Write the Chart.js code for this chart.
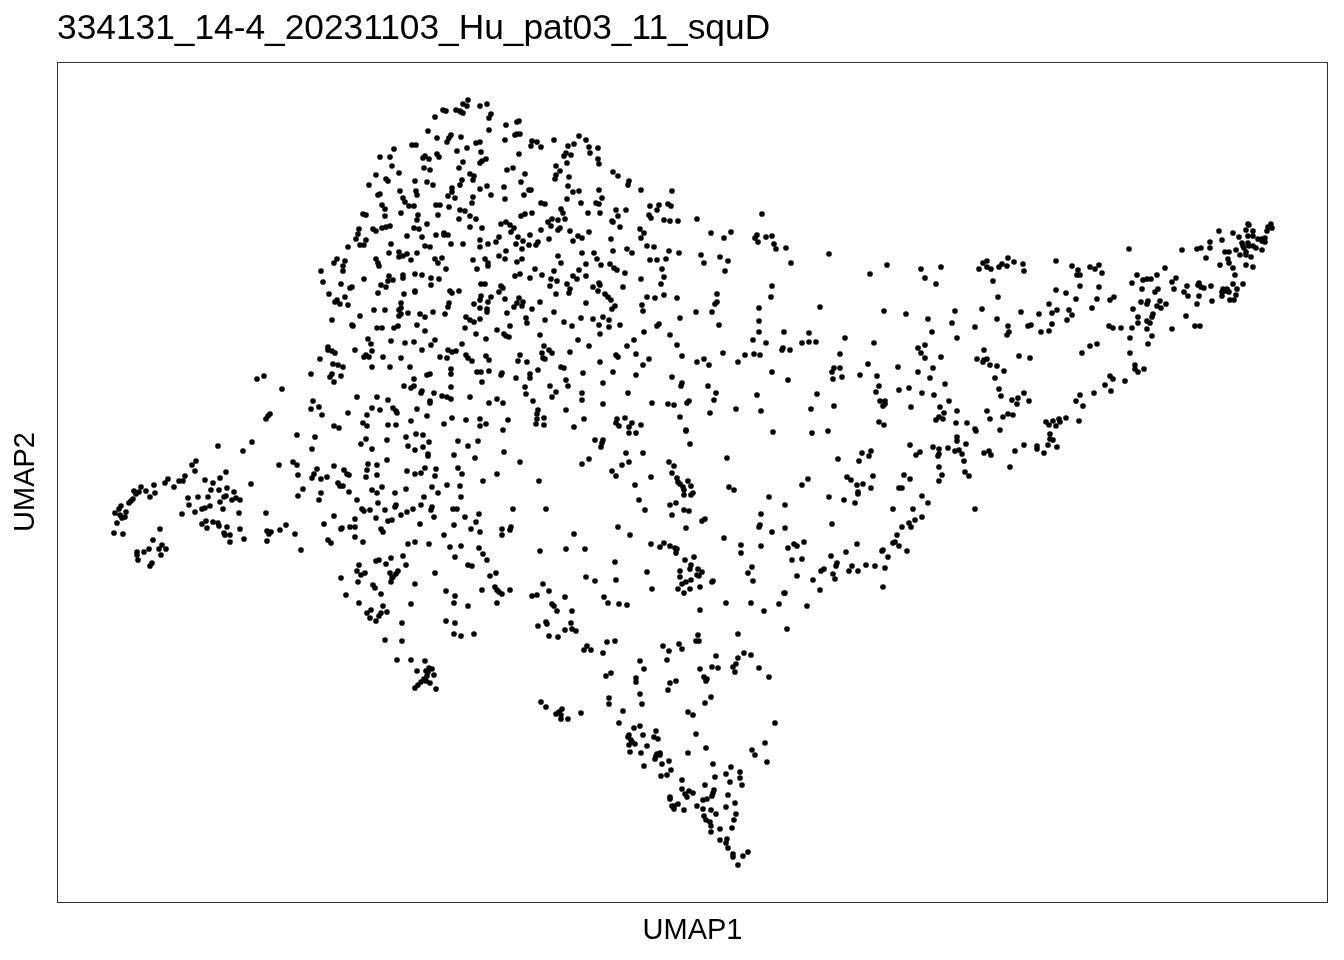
<!DOCTYPE html>
<html>
<head>
<meta charset="utf-8">
<script src="https://cdn.jsdelivr.net/npm/chart.js@4/dist/chart.umd.min.js"></script>
<style>
    html, body { margin: 0; padding: 0; background: #fff; }
    canvas { display: block; }
</style>
</head>
<body>
<canvas id="umap-chart" width="1344" height="960"></canvas>
<script>
const chartTitle = '334131_14-4_20231103_Hu_pat03_11_squD';
const xLabel = 'UMAP1';
const yLabel = 'UMAP2';

// Cells as [UMAP1, UMAP2], grouped by area of the plot
const northWest = [[4.11,8.02],[4.06,7.98],[4.10,7.96],[4.23,7.96],[4.30,7.98],[3.86,7.92],[3.89,7.91],[3.99,7.92],[4.03,7.91],[4.06,7.89],[4.04,7.90],[4.34,7.88],[4.32,7.84],[3.78,7.85],[4.49,7.77],[3.71,7.71],[4.32,7.72],[3.80,7.64],[3.94,7.67],[3.92,7.64],[3.90,7.60],[4.04,7.65],[4.48,7.62],[3.55,7.57],[3.59,7.57],[4.19,7.59],[4.23,7.60],[3.37,7.53],[4.00,7.51],[4.10,7.54],[4.24,7.50],[3.23,7.45],[3.33,7.45],[3.68,7.46],[3.66,7.44],[3.72,7.43],[3.80,7.48],[3.82,7.45],[4.06,7.40],[4.29,7.43],[4.25,7.41],[4.23,7.39],[3.35,7.36],[4.02,7.34],[3.67,7.34],[3.73,7.32],[4.50,7.32],[3.42,7.29],[3.19,7.27],[4.13,7.28],[4.17,7.26],[4.16,7.22],[3.29,7.23],[3.31,7.21],[3.58,7.21],[3.70,7.20],[3.12,7.17],[3.76,7.17],[4.05,7.22],[4.03,7.17],[4.30,7.16],[4.47,7.15],[4.23,7.13],[3.95,7.14],[3.95,7.10],[3.43,7.11],[3.59,7.11],[3.60,7.07],[3.23,7.08],[3.21,7.07],[3.91,7.06],[4.34,7.07],[3.98,7.04],[4.16,7.05],[3.46,7.04],[3.48,7.00],[4.48,7.03],[4.15,6.99],[3.25,6.97],[3.28,6.93],[3.52,6.96],[3.57,6.96],[3.79,6.97],[3.83,6.97],[3.92,6.95],[4.03,6.92],[4.08,6.91],[3.44,6.89],[3.06,6.88],[3.09,6.87],[3.28,6.86],[3.61,6.87],[3.60,6.82],[3.81,6.87],[4.13,6.86],[4.19,6.83],[4.02,6.83],[3.70,6.78],[4.44,6.78],[4.49,6.80],[4.53,6.77],[3.33,6.76],[3.29,6.75],[3.25,6.74],[3.16,6.73],[3.19,6.71],[3.02,6.73],[3.57,6.74],[3.62,6.73],[4.13,6.75],[4.25,6.74],[3.01,6.68],[2.99,6.63],[3.09,6.62],[3.50,6.66],[3.79,6.67],[3.87,6.69],[3.87,6.67],[3.91,6.67],[3.65,6.65],[4.42,6.65],[4.23,6.62],[4.39,6.60],[3.03,6.57],[3.07,6.57],[2.91,6.55],[3.34,6.58],[3.94,6.58],[4.06,6.58],[4.31,6.58],[3.68,6.56],[3.73,6.55],[4.23,6.55],[4.49,6.51],[3.42,6.50],[3.32,6.49],[3.50,6.48],[3.46,6.46],[3.42,6.45],[3.60,6.49],[4.42,6.46],[4.48,6.43],[2.80,6.43],[2.88,6.41],[2.77,6.39],[3.19,6.43],[3.21,6.39],[3.54,6.42],[3.78,6.43],[3.85,6.44],[3.81,6.39],[4.16,6.42],[4.28,6.43],[4.31,6.39]];

const northCentre = [[4.60,7.80],[4.62,7.81],[4.58,7.67],[4.60,7.68],[4.63,7.68],[4.75,7.61],[4.80,7.60],[4.74,7.56],[4.84,7.55],[4.97,7.62],[5.22,7.66],[5.29,7.62],[5.17,7.58],[5.11,7.56],[5.32,7.55],[5.41,7.54],[5.33,7.49],[5.09,7.49],[5.07,7.46],[5.14,7.47],[4.62,7.48],[5.41,7.43],[5.42,7.38],[5.10,7.39],[4.99,7.36],[4.56,7.34],[5.03,7.31],[5.56,7.30],[5.61,7.26],[4.68,7.28],[4.99,7.27],[4.98,7.23],[5.12,7.25],[5.72,7.21],[5.71,7.17],[4.64,7.20],[5.11,7.16],[5.16,7.10],[5.22,7.11],[5.42,7.12],[5.84,7.12],[6.15,7.11],[4.72,7.12],[4.74,7.12],[4.67,7.07],[5.45,7.04],[5.10,7.03],[4.84,6.99],[4.88,6.98],[5.24,6.99],[5.39,6.99],[5.42,6.98],[6.11,6.98],[6.14,6.96],[5.93,6.96],[6.02,6.97],[5.04,6.93],[5.59,6.92],[5.69,6.92],[6.00,6.92],[5.06,6.89],[4.75,6.89],[4.68,6.88],[4.64,6.86],[5.31,6.89],[5.43,6.89],[5.61,6.86],[5.92,6.87],[5.94,6.84],[4.95,6.83],[5.01,6.82],[5.08,6.83],[4.91,6.80],[4.94,6.76],[5.55,6.81],[5.56,6.80],[6.07,6.82],[6.13,6.81],[6.21,6.81],[6.40,6.83],[5.63,6.75],[4.57,6.74],[4.54,6.70],[4.84,6.72],[5.03,6.74],[5.01,6.72],[5.13,6.71],[5.83,6.73],[5.87,6.69],[5.32,6.70],[4.73,6.67],[4.61,6.65],[5.21,6.66],[5.25,6.64],[4.92,6.63],[5.54,6.63],[5.84,6.64],[6.54,6.69],[4.66,6.61],[5.16,6.61],[4.59,6.58],[4.72,6.57],[4.81,6.60],[4.79,6.57],[5.90,6.56],[5.97,6.55],[4.65,6.53],[5.70,6.53],[5.75,6.49],[5.56,6.51],[5.25,6.49],[5.37,6.49],[6.12,6.51],[6.22,6.49],[5.01,6.46],[6.44,6.47],[5.40,6.43],[5.93,6.42],[6.00,6.42],[6.09,6.43],[4.65,6.43],[4.60,6.40],[5.04,6.39],[5.29,6.38],[5.53,6.38],[6.47,6.39]];

const midWest = [[2.86,6.36],[2.64,6.31],[2.86,6.31],[3.22,6.36],[4.20,6.33],[4.31,6.36],[3.89,6.33],[3.07,6.23],[3.32,6.26],[3.46,6.27],[3.46,6.24],[3.58,6.28],[3.65,6.27],[3.74,6.24],[3.82,6.23],[3.36,6.22],[3.31,6.21],[2.66,6.20],[2.84,6.18],[2.95,6.15],[2.93,6.14],[3.24,6.17],[3.29,6.15],[3.74,6.17],[4.24,6.18],[4.28,6.18],[4.44,6.16],[4.46,6.14],[2.72,6.08],[2.88,6.05],[3.21,6.09],[3.47,6.08],[3.58,6.11],[3.58,6.10],[3.93,6.11],[3.95,6.09],[4.02,6.11],[4.42,6.10],[4.24,6.06],[4.34,6.05],[4.23,6.02],[4.31,6.00],[4.48,6.03],[2.80,6.02],[2.78,6.00],[2.83,5.98],[2.91,5.97],[3.44,5.99],[3.92,5.99],[3.91,5.95],[4.17,5.98],[3.44,5.94],[3.42,5.92],[3.17,5.92],[3.28,5.92],[4.23,5.94],[4.30,5.93],[4.30,5.90],[3.76,5.90],[3.88,5.88],[3.51,5.89],[3.63,5.88],[3.42,5.86],[3.44,5.88],[3.68,5.85],[3.03,5.86],[4.50,5.89],[4.09,5.85],[2.75,5.82],[4.13,5.82],[4.17,5.80],[4.23,5.83],[2.95,5.77],[2.96,5.76],[3.60,5.77],[3.41,5.76],[3.37,5.74],[3.20,5.74],[3.25,5.74],[4.08,5.74],[4.53,5.76],[3.68,5.71],[4.40,5.72],[4.19,5.68],[4.47,5.68],[4.49,5.66],[4.52,5.65],[4.29,5.63],[3.11,5.63],[3.34,5.61],[3.14,5.58],[3.48,5.59],[3.57,5.60],[3.78,5.62],[3.74,5.57],[4.05,5.58],[2.71,5.55],[2.71,5.52],[2.75,5.51],[2.78,5.49],[2.98,5.52],[3.15,5.51],[3.65,5.52],[3.91,5.52],[3.95,5.50],[3.99,5.51],[3.09,5.47],[3.07,5.45],[3.12,5.45],[3.26,5.45],[3.44,5.44],[3.83,5.45],[3.90,5.44],[4.09,5.47],[4.11,5.44],[4.15,5.41],[4.29,5.46],[4.32,5.42],[2.63,5.43],[2.76,5.38],[2.81,5.37],[2.86,5.35],[3.15,5.35],[3.33,5.35],[3.53,5.35],[3.94,5.33],[3.94,5.28],[2.54,5.28],[2.75,5.28],[2.73,5.25],[2.84,5.26],[3.70,5.27],[3.73,5.28],[4.20,5.30],[4.24,5.30],[4.32,5.31],[4.45,5.29],[4.44,5.27],[2.77,5.20],[3.57,5.23],[4.25,5.20],[3.47,5.16],[3.57,5.16],[3.54,5.14],[3.94,5.15],[3.65,5.11],[3.64,5.09],[3.77,5.09],[3.00,5.05],[3.20,5.05],[3.85,5.06],[3.90,5.05],[3.94,5.03],[4.13,5.05],[3.31,5.02],[4.40,5.03],[3.73,5.01],[3.73,4.99],[4.32,4.99],[4.46,4.99],[2.56,5.01],[2.54,4.93],[2.62,4.95],[2.65,4.87],[3.15,4.94],[3.23,4.92],[3.36,4.94],[3.39,4.91],[3.40,4.89],[3.60,4.93],[2.91,4.89],[3.10,4.87],[3.70,4.86],[3.95,4.84],[4.09,4.82],[4.23,4.83],[4.51,4.82],[3.54,4.81],[3.06,4.79],[3.10,4.76],[3.31,4.77],[3.39,4.77],[3.87,4.78],[4.29,4.78],[4.23,4.76],[2.77,4.76],[2.82,4.74],[4.46,4.72]];

const midCentre = [[4.63,6.28],[4.58,6.26],[4.78,6.33],[4.73,6.24],[4.85,6.27],[4.97,6.31],[4.94,6.23],[5.00,6.21],[4.93,6.16],[5.22,6.32],[5.44,6.37],[5.57,6.34],[5.60,6.32],[5.68,6.29],[5.16,6.26],[5.20,6.23],[5.29,6.26],[5.84,6.23],[6.05,6.33],[6.07,6.25],[6.04,6.18],[5.10,6.18],[5.13,6.13],[5.12,6.09],[4.99,6.08],[5.36,6.15],[5.42,6.19],[5.43,6.17],[5.41,6.11],[5.66,6.15],[5.48,6.08],[5.51,6.05],[5.54,6.02],[6.07,6.07],[5.90,6.05],[5.98,6.04],[6.20,6.04],[6.60,6.08],[4.62,6.04],[4.60,5.99],[4.66,6.00],[4.65,5.96],[4.57,5.95],[4.83,6.00],[5.29,5.99],[5.58,5.96],[5.55,5.93],[5.85,5.97],[6.60,6.00],[6.58,5.98],[4.75,5.93],[4.97,5.90],[5.86,5.91],[6.39,5.90],[6.55,5.90],[5.24,5.84],[5.36,5.83],[5.46,5.85],[5.52,5.82],[4.69,5.84],[4.70,5.79],[4.88,5.82],[5.07,5.80],[5.15,5.76],[5.42,5.77],[5.52,5.75],[5.63,5.77],[6.23,5.84],[6.02,5.78],[6.00,5.76],[6.62,5.77],[5.87,5.70],[5.43,5.68],[6.13,5.67],[4.83,5.67],[5.21,5.62],[5.77,5.62],[5.32,5.56],[5.70,5.56],[6.20,5.57],[4.87,5.56],[4.92,5.52],[4.95,5.49],[4.85,5.49],[5.13,5.50],[5.79,5.48],[6.25,5.46],[4.63,5.47],[4.86,5.44],[4.88,5.43],[5.59,5.47],[5.61,5.45],[5.92,5.43],[6.47,5.43],[4.61,5.41],[4.70,5.40],[5.43,5.40],[6.40,5.40],[6.52,5.37],[5.86,5.37],[4.81,5.32],[5.04,5.35],[5.07,5.34],[5.56,5.30],[5.26,5.29],[5.79,5.27],[4.73,5.28],[4.73,5.24],[4.59,5.24],[6.15,5.25],[5.09,5.22],[5.46,5.19],[6.25,5.19],[6.24,5.16],[4.93,5.16],[5.11,5.16],[6.51,5.16],[4.68,5.15],[5.71,5.09],[4.99,5.10],[5.25,5.09],[6.59,5.09],[4.69,5.08],[4.95,5.05],[5.25,5.02],[6.57,5.02],[4.76,5.01],[5.46,4.98],[5.95,4.99],[6.11,4.98],[6.17,4.97],[6.32,5.01],[6.30,4.99],[4.81,4.92],[4.80,4.88],[5.09,4.92],[6.53,4.89],[6.23,4.85],[4.87,4.84],[4.80,4.83],[5.27,4.83],[5.68,4.84],[5.60,4.83],[5.59,4.79],[5.84,4.77],[5.75,4.79],[5.72,4.75],[5.62,4.76],[4.79,4.78],[4.87,4.77],[5.17,4.75],[6.29,4.72]];

const tailWest = [[2.00,5.23],[2.07,5.26],[2.25,5.13],[2.13,4.88],[2.11,4.86],[2.09,4.83],[2.40,4.67],[1.95,4.60],[1.61,4.56],[1.86,4.51],[1.39,4.41],[1.35,4.37],[2.22,4.37],[2.36,4.40],[2.40,4.37],[1.38,4.31],[1.69,4.30],[2.41,4.27],[1.28,4.26],[1.11,4.23],[1.48,4.22],[1.63,4.24],[1.22,4.21],[1.26,4.21],[1.08,4.19],[1.56,4.19],[1.94,4.18],[0.97,4.17],[0.84,4.15],[1.17,4.15],[1.70,4.14],[1.62,4.12],[1.54,4.12],[0.89,4.11],[0.77,4.11],[0.82,4.10],[0.79,4.08],[0.98,4.09],[1.77,4.10],[1.69,4.06],[1.67,4.05],[1.79,4.04],[1.41,4.05],[1.51,4.05],[0.93,4.05],[1.31,4.04],[2.41,4.06],[0.76,4.03],[0.74,4.01],[0.72,3.99],[1.75,4.02],[1.83,4.02],[1.63,4.00],[1.32,3.97],[1.53,3.96],[0.64,3.96],[0.62,3.93],[1.45,3.93],[1.48,3.94],[1.66,3.93],[1.38,3.90],[0.58,3.89],[0.69,3.90],[0.63,3.87],[1.25,3.88],[1.82,3.89],[2.09,3.89],[0.68,3.85],[0.65,3.84],[0.60,3.79],[1.49,3.81],[1.56,3.80],[1.61,3.79],[1.45,3.78],[1.62,3.76],[1.50,3.74],[1.70,3.75],[1.83,3.73],[2.29,3.77],[2.23,3.72],[1.03,3.73],[2.10,3.71],[2.14,3.70],[2.12,3.68],[2.38,3.68],[0.57,3.69],[0.66,3.68],[1.67,3.69],[1.68,3.67],[1.73,3.67],[1.87,3.63],[0.96,3.62],[2.10,3.61],[1.73,3.60],[1.05,3.57],[1.02,3.53],[0.92,3.53],[1.09,3.53],[0.87,3.50],[0.80,3.50],[0.80,3.47],[1.04,3.47],[0.81,3.42],[0.95,3.39],[0.93,3.36]];

const southWest = [[2.58,4.65],[2.55,4.53],[3.04,4.58],[3.09,4.63],[3.15,4.53],[3.30,4.62],[3.49,4.65],[3.59,4.68],[3.66,4.67],[3.72,4.60],[3.51,4.56],[3.58,4.52],[3.66,4.55],[3.71,4.48],[3.71,4.46],[4.01,4.61],[4.11,4.56],[4.21,4.61],[3.97,4.47],[4.18,4.44],[4.47,4.50],[4.63,4.40],[3.30,4.42],[2.77,4.36],[3.11,4.38],[3.20,4.37],[3.10,4.32],[4.01,4.34],[2.60,4.33],[2.87,4.32],[3.50,4.31],[3.68,4.34],[3.79,4.33],[3.64,4.29],[3.58,4.28],[4.05,4.28],[4.40,4.28],[2.90,4.28],[2.92,4.27],[2.57,4.28],[2.55,4.24],[2.64,4.23],[2.70,4.25],[3.20,4.27],[3.09,4.25],[3.78,4.26],[4.26,4.21],[2.81,4.19],[2.83,4.16],[2.86,4.16],[2.46,4.13],[3.25,4.15],[3.15,4.12],[3.49,4.13],[3.75,4.15],[3.90,4.17],[4.03,4.16],[2.64,4.09],[2.92,4.10],[3.20,4.09],[3.38,4.09],[3.81,4.09],[3.67,4.05],[4.04,4.05],[2.62,4.02],[3.00,4.02],[3.21,3.99],[3.39,3.97],[3.38,3.95],[3.64,3.97],[3.05,3.93],[3.07,3.91],[3.13,3.92],[3.28,3.92],[3.56,3.93],[3.50,3.90],[3.75,3.95],[3.74,3.92],[3.96,3.93],[4.00,3.93],[4.56,3.93],[4.22,3.88],[3.44,3.87],[2.77,3.86],[2.98,3.83],[3.19,3.84],[3.77,3.85],[4.08,3.85],[3.31,3.81],[3.35,3.82],[4.19,3.80],[2.67,3.78],[3.63,3.78],[3.97,3.77],[2.85,3.74],[2.84,3.73],[2.93,3.75],[2.98,3.75],[3.24,3.73],[3.26,3.70],[4.14,3.73],[4.23,3.70],[4.45,3.73],[4.54,3.75],[4.53,3.72],[4.45,3.67],[3.87,3.67],[2.98,3.65],[3.06,3.60],[2.71,3.62],[2.74,3.59],[3.58,3.60],[3.51,3.58],[3.72,3.58],[2.44,3.52],[3.93,3.55],[4.04,3.56],[4.22,3.54],[4.26,3.48],[3.98,3.45],[3.46,3.46],[3.34,3.44],[3.22,3.42],[3.19,3.41],[4.30,3.42],[3.29,3.38],[3.49,3.37],[3.02,3.37],[4.11,3.37],[4.15,3.36],[3.00,3.31],[3.08,3.29],[3.04,3.27],[3.41,3.31],[3.39,3.28],[3.33,3.29],[3.36,3.25],[3.78,3.29],[4.39,3.29],[4.33,3.26],[2.84,3.24],[3.35,3.24],[3.34,3.20],[3.01,3.20],[3.58,3.18],[3.16,3.17],[3.18,3.14],[4.38,3.15],[4.40,3.12],[4.42,3.10],[4.45,3.08],[4.25,3.12],[4.53,3.12],[3.89,3.11],[3.98,3.06],[2.89,3.07],[3.24,3.08],[3.02,2.99],[3.54,2.98],[3.97,2.99],[4.11,2.96],[4.40,2.99],[3.26,2.96],[3.14,2.92],[3.30,2.90],[3.24,2.89],[3.22,2.86],[3.10,2.89],[3.13,2.84],[3.19,2.81],[3.45,2.79],[3.89,2.81],[3.98,2.79],[3.97,2.68],[4.04,2.66],[4.17,2.68],[3.28,2.62],[3.45,2.61],[3.40,2.42],[3.54,2.42],[3.68,2.41],[3.60,2.31],[3.69,2.31],[3.72,2.34],[3.75,2.33],[3.71,2.30],[3.77,2.27],[3.70,2.26],[3.67,2.23],[3.64,2.20],[3.61,2.17],[3.58,2.14],[3.69,2.21],[3.73,2.19],[3.79,2.13]];

const southCentre = [[5.72,4.69],[5.79,4.69],[6.29,4.71],[7.16,4.70],[5.38,4.62],[5.46,4.62],[5.45,4.59],[5.44,4.55],[6.33,4.58],[5.69,4.49],[5.86,4.49],[5.32,4.43],[6.70,4.44],[5.25,4.38],[5.72,4.40],[5.65,4.37],[6.12,4.40],[6.17,4.36],[5.55,4.31],[5.59,4.26],[6.15,4.29],[5.94,4.25],[6.20,4.24],[6.31,4.21],[4.82,4.21],[6.21,4.20],[6.23,4.18],[6.26,4.15],[6.27,4.12],[6.34,4.16],[5.78,4.17],[6.72,4.15],[6.77,4.12],[6.36,4.09],[6.34,4.07],[6.27,4.07],[7.12,4.05],[5.82,4.02],[6.19,3.99],[6.13,3.97],[7.28,3.97],[4.89,3.93],[5.88,3.92],[6.27,3.92],[6.32,3.91],[7.04,3.88],[6.15,3.87],[6.48,3.83],[6.45,3.81],[7.03,3.77],[7.02,3.75],[5.61,3.75],[6.29,3.74],[7.28,3.74],[7.15,3.70],[5.17,3.68],[5.73,3.67],[6.67,3.64],[5.94,3.58],[6.07,3.59],[6.03,3.55],[6.13,3.56],[6.18,3.54],[6.20,3.53],[6.19,3.49],[6.84,3.57],[7.04,3.56],[7.37,3.58],[7.40,3.56],[7.31,3.54],[4.83,3.51],[5.09,3.53],[5.28,3.53],[6.84,3.49],[6.37,3.45],[6.28,3.42],[7.35,3.42],[5.58,3.40],[6.34,3.37],[6.33,3.33],[6.41,3.33],[6.45,3.30],[6.23,3.31],[6.95,3.35],[5.90,3.30],[6.91,3.29],[6.40,3.27],[6.42,3.26],[6.23,3.25],[7.40,3.26],[5.29,3.25],[5.59,3.22],[5.38,3.21],[6.34,3.22],[6.29,3.20],[6.25,3.18],[6.55,3.20],[6.56,3.21],[6.96,3.21],[4.86,3.18],[6.43,3.15],[6.21,3.13],[6.33,3.13],[5.95,3.13],[4.92,3.11],[6.27,3.09],[7.27,3.09],[7.28,3.09],[4.75,3.06],[4.80,3.07],[5.08,3.05],[5.47,3.05],[5.51,2.99],[5.62,2.98],[5.70,2.97],[4.95,2.98],[4.97,2.96],[6.69,2.99],[6.94,2.99],[7.22,2.98],[5.00,2.91],[5.15,2.91],[6.43,2.92],[7.07,2.91],[4.89,2.80],[4.90,2.78],[4.81,2.76],[5.14,2.79],[5.08,2.72],[5.15,2.73],[5.19,2.71],[7.30,2.73],[6.81,2.68],[6.41,2.67],[4.92,2.66],[5.01,2.65]];

const southTip = [[5.50,2.60],[5.58,2.61],[6.39,2.61],[6.42,2.61],[5.30,2.56],[5.27,2.52],[5.34,2.52],[5.46,2.49],[6.06,2.56],[6.22,2.58],[6.12,2.51],[6.25,2.53],[6.59,2.46],[6.87,2.49],[6.94,2.47],[6.81,2.44],[5.83,2.41],[6.10,2.42],[6.79,2.38],[6.76,2.35],[6.55,2.35],[6.61,2.34],[6.43,2.33],[7.02,2.34],[5.87,2.33],[6.78,2.30],[5.54,2.29],[5.49,2.26],[7.12,2.25],[6.47,2.25],[6.50,2.23],[6.49,2.21],[5.79,2.24],[5.79,2.20],[6.19,2.21],[6.13,2.19],[6.11,2.12],[5.83,2.08],[5.52,2.04],[6.54,2.05],[5.52,1.98],[5.85,1.98],[6.48,1.99],[4.84,2.00],[4.89,1.95],[5.05,1.93],[5.02,1.90],[4.99,1.88],[5.04,1.87],[5.04,1.83],[5.11,1.83],[5.24,1.89],[5.66,1.91],[6.31,1.90],[6.36,1.87],[5.62,1.79],[7.18,1.79],[5.83,1.76],[5.77,1.74],[5.99,1.71],[6.39,1.68],[5.72,1.67],[5.71,1.65],[5.86,1.67],[5.97,1.65],[6.01,1.63],[5.74,1.62],[5.75,1.60],[5.72,1.57],[5.78,1.58],[5.90,1.56],[7.08,1.59],[6.49,1.54],[6.95,1.52],[6.98,1.47],[5.73,1.50],[5.84,1.49],[6.03,1.49],[6.00,1.48],[6.31,1.49],[5.99,1.46],[6.03,1.47],[5.98,1.43],[6.12,1.41],[7.10,1.40],[6.05,1.38],[6.56,1.38],[5.87,1.36],[6.74,1.35],[6.14,1.32],[6.83,1.30],[6.69,1.28],[6.10,1.27],[6.04,1.26],[6.58,1.25],[6.83,1.24],[6.25,1.22],[6.73,1.20],[6.85,1.17],[6.48,1.17],[6.25,1.13],[6.32,1.11],[6.36,1.09],[6.28,1.08],[6.30,1.05],[6.57,1.12],[6.56,1.09],[6.55,1.06],[6.71,1.07],[6.13,1.05],[6.13,1.03],[6.46,1.02],[6.50,1.03],[6.78,0.99],[6.21,0.98],[6.15,0.96],[6.17,0.96],[6.17,0.93],[6.40,0.96],[6.69,0.95],[6.27,0.92],[6.46,0.93],[6.54,0.92],[6.59,0.88],[6.79,0.88],[6.47,0.86],[6.49,0.82],[6.77,0.82],[6.53,0.80],[6.54,0.76],[6.63,0.73],[6.75,0.74],[6.54,0.70],[6.63,0.62],[6.70,0.63],[6.69,0.59],[6.71,0.54],[6.76,0.48],[6.76,0.45],[6.91,0.50],[6.86,0.46],[6.81,0.37]];

const eastUpper = [[7.05,6.88],[6.74,6.70],[6.67,6.64],[7.00,6.67],[6.98,6.64],[7.01,6.60],[7.09,6.65],[7.15,6.66],[7.17,6.58],[7.19,6.53],[7.29,6.54],[7.72,6.48],[6.63,6.45],[6.71,6.41],[7.34,6.39],[8.30,6.37],[6.68,6.31],[8.64,6.33],[8.84,6.35],[8.13,6.28],[8.68,6.24],[8.79,6.18],[7.15,6.16],[7.14,6.05],[7.63,5.95],[7.02,5.94],[8.27,5.91],[8.98,5.91],[8.49,5.88],[7.02,5.81],[8.71,5.83],[8.95,5.79],[8.75,5.70],[7.02,5.70],[7.27,5.70],[7.52,5.69],[7.88,5.64],[9.00,5.64],[6.96,5.62],[7.09,5.59],[7.45,5.59],[7.52,5.60],[7.59,5.60],[8.17,5.59],[8.68,5.57],[8.61,5.54],[8.64,5.49],[7.26,5.54],[7.25,5.52],[7.33,5.52],[6.66,5.49],[6.88,5.47],[6.97,5.48],[7.03,5.47],[7.83,5.48],[8.68,5.44],[8.84,5.45],[6.81,5.40],[8.11,5.38],[7.77,5.34],[7.83,5.34],[8.41,5.35],[8.76,5.34],[7.15,5.30],[7.75,5.30],[8.61,5.30],[7.76,5.23],[7.85,5.25],[8.03,5.27],[8.20,5.26],[8.73,5.24],[7.31,5.22],[8.22,5.16],[8.88,5.18],[8.42,5.12],[8.52,5.14],[8.19,5.10],[7.00,5.07],[7.60,5.08],[8.65,5.09],[8.77,5.07],[8.23,5.01],[8.28,5.01],[8.92,5.01],[7.77,4.96],[8.28,4.98],[8.26,4.96],[8.54,4.95],[8.83,4.95],[6.79,4.93],[7.54,4.93],[7.04,4.91],[9.00,4.91],[8.87,4.89],[8.82,4.85],[8.86,4.83],[8.79,4.82],[8.22,4.80],[8.27,4.77],[8.99,4.79]];

const eastRidge = [[7.55,4.69],[7.71,4.71],[9.00,4.65],[9.00,4.61],[9.09,4.58],[8.53,4.57],[9.67,4.57],[9.80,4.56],[9.80,4.53],[9.91,4.57],[10.00,4.55],[9.93,4.63],[9.96,4.62],[9.93,4.68],[9.87,4.49],[9.58,4.51],[8.76,4.55],[8.82,4.53],[8.91,4.54],[8.98,4.51],[9.02,4.52],[9.05,4.48],[8.63,4.50],[8.59,4.47],[8.82,4.48],[8.81,4.46],[9.27,4.49],[9.32,4.51],[9.34,4.47],[8.14,4.51],[8.12,4.46],[8.05,4.49],[7.81,4.43],[8.02,4.41],[9.07,4.41],[9.53,4.35],[8.82,4.35],[9.08,4.30],[9.12,4.26],[8.85,4.27],[8.47,4.27],[8.53,4.23],[8.16,4.26],[8.82,4.21],[7.90,4.25],[7.94,4.22],[7.51,4.23],[7.45,4.17],[8.00,4.17],[8.06,4.18],[8.14,4.14],[8.42,4.14],[8.45,4.14],[8.01,4.10],[8.01,4.08],[7.72,4.05],[8.65,4.06],[7.87,4.02],[7.98,3.99],[8.71,3.99],[8.36,3.93],[8.56,3.93],[9.18,3.93],[8.65,3.85],[8.58,3.82],[8.52,3.79],[8.54,3.75],[8.45,3.75],[7.75,3.78],[8.40,3.67],[7.47,3.60],[8.38,3.60],[8.36,3.59],[8.42,3.56],[8.00,3.58],[8.26,3.52],[8.25,3.51],[8.50,3.51],[7.89,3.50],[8.31,3.45],[7.74,3.46],[7.45,3.43],[7.80,3.39],[7.79,3.36],[7.95,3.36],[8.09,3.37],[8.18,3.36],[8.28,3.34],[7.67,3.33],[7.64,3.31],[7.92,3.31],[8.01,3.31],[7.76,3.28],[7.78,3.23],[7.56,3.22],[7.63,3.12],[8.26,3.15],[7.50,2.96]];

const eastArm = [[11.91,6.78],[12.14,6.78],[11.92,6.77],[12.11,6.75],[12.15,6.74],[11.62,6.71],[11.76,6.69],[11.89,6.72],[11.96,6.71],[12.10,6.71],[11.82,6.65],[11.91,6.66],[11.96,6.66],[11.65,6.62],[11.53,6.60],[12.01,6.63],[12.05,6.63],[12.08,6.64],[12.08,6.60],[12.05,6.61],[11.85,6.59],[11.91,6.59],[11.86,6.56],[11.96,6.56],[11.99,6.54],[11.87,6.54],[11.92,6.56],[12.05,6.52],[10.72,6.53],[11.25,6.52],[11.40,6.53],[11.44,6.54],[11.53,6.54],[11.68,6.50],[11.72,6.50],[11.79,6.52],[11.89,6.50],[11.89,6.47],[11.83,6.47],[11.94,6.45],[11.49,6.44],[11.71,6.43],[9.51,6.44],[9.30,6.41],[9.26,6.39],[9.57,6.40],[9.99,6.41],[9.45,6.38],[9.42,6.35],[9.50,6.36],[9.66,6.38],[10.15,6.36],[10.33,6.35],[10.42,6.37],[10.38,6.33],[11.72,6.39],[11.63,6.37],[11.89,6.37],[11.96,6.35],[11.76,6.34],[9.30,6.35],[9.22,6.33],[9.34,6.33],[9.67,6.31],[10.21,6.32],[10.45,6.29],[11.08,6.34],[10.20,6.27],[10.23,6.27],[10.80,6.27],[11.00,6.27],[11.78,6.27],[10.86,6.22],[10.90,6.23],[10.94,6.23],[11.19,6.24],[9.36,6.21],[10.75,6.19],[11.15,6.20],[11.42,6.19],[11.86,6.18],[11.76,6.18],[10.23,6.16],[10.42,6.15],[11.30,6.16],[11.41,6.17],[11.54,6.16],[11.44,6.15],[11.47,6.14],[10.85,6.13],[11.01,6.13],[11.17,6.13],[11.70,6.13],[11.66,6.13],[11.80,6.13],[9.99,6.12],[10.98,6.10],[11.27,6.10],[11.65,6.10],[11.68,6.11],[11.72,6.10],[10.09,6.09],[9.41,6.05],[11.31,6.06],[11.42,6.06],[11.65,6.06],[11.79,6.07],[10.57,6.05],[10.53,6.02],[10.19,6.03],[10.40,6.03],[11.03,6.01],[11.55,6.01],[11.73,6.02],[11.77,6.02],[10.84,6.00],[10.91,6.01],[10.90,5.98],[11.09,5.98],[11.40,5.98],[9.92,5.98],[11.00,5.96],[11.04,5.94],[10.35,5.94],[10.76,5.93],[9.25,5.93],[10.00,5.92],[10.12,5.92],[9.64,5.90],[9.82,5.88],[9.95,5.89],[10.15,5.87],[10.96,5.88],[10.95,5.85],[10.81,5.85],[11.29,5.86],[9.40,5.83],[10.10,5.82],[10.90,5.81],[10.93,5.79],[10.81,5.79],[9.95,5.78],[9.51,5.76],[9.71,5.76],[9.74,5.77],[10.52,5.76],[10.56,5.74],[10.64,5.74],[10.75,5.74],[10.90,5.73],[11.15,5.73],[11.38,5.76],[11.43,5.76],[9.18,5.75],[9.84,5.70],[9.92,5.71],[9.52,5.70],[9.50,5.67],[10.95,5.66],[10.73,5.64],[10.91,5.58],[10.40,5.58],[10.33,5.56],[9.27,5.52],[10.25,5.49],[10.73,5.49],[9.62,5.46],[9.73,5.44],[9.20,5.43],[9.27,5.42],[9.30,5.43],[9.26,5.40],[9.33,5.37],[9.40,5.36],[10.78,5.37],[9.47,5.31],[10.78,5.33],[10.81,5.30],[10.87,5.33],[10.53,5.26],[10.56,5.23],[9.38,5.24],[10.68,5.21],[10.48,5.17],[9.42,5.13],[10.54,5.11],[10.37,5.09],[10.23,5.07],[9.67,5.09],[9.44,5.06],[9.61,5.04],[9.55,5.02],[9.72,5.01],[10.19,5.01],[9.60,4.98],[10.26,4.96],[9.30,4.91],[9.51,4.88],[9.56,4.87],[9.46,4.85],[9.33,4.83],[10.09,4.84],[10.02,4.83],[9.10,4.79],[9.89,4.80],[9.92,4.77],[9.96,4.81],[10.03,4.80],[9.99,4.76],[10.22,4.81],[9.18,4.73],[9.19,4.71],[9.43,4.72]];

const cells = [northWest, northCentre, midWest, midCentre, tailWest, southWest, southCentre, southTip, eastUpper, eastRidge, eastArm]
    .flat()
    .map(c => ({ x: c[0], y: c[1] }));

// R style box round the whole panel
const panelBox = {
    id: 'panelBox',
    afterDatasetsDraw(chart) {
        const a = chart.chartArea;
        const ctx = chart.ctx;
        ctx.save();
        ctx.strokeStyle = '#333333';
        ctx.lineWidth = 1;
        ctx.strokeRect(a.left + 0.5, a.top + 0.5, a.right - a.left - 1, a.bottom - a.top);
        ctx.restore();
    }
};

new Chart(document.getElementById('umap-chart'), {
    type: 'scatter',
    data: {
        datasets: [{
            data: cells,
            backgroundColor: '#000000',
            borderWidth: 0,
            pointRadius: 2.8,
            pointHoverRadius: 2.8
        }]
    },
    options: {
        responsive: false,
        animation: false,
        devicePixelRatio: 1,
        layout: { padding: { right: 16 } },
        plugins: {
            legend: { display: false },
            tooltip: { enabled: false },
            title: {
                display: true,
                text: chartTitle,
                align: 'start',
                fullSize: false,
                color: '#000000',
                font: { family: '"Liberation Sans", Arial, sans-serif', size: 35.3, weight: 'normal', lineHeight: 1.2 },
                padding: { top: 8, bottom: 11.6 }
            }
        },
        scales: {
            x: {
                type: 'linear',
                min: 0,
                max: 12.71,
                ticks: { display: false },
                grid: { display: false },
                border: { display: false },
                title: {
                    display: true,
                    text: xLabel,
                    color: '#000000',
                    font: { family: '"Liberation Sans", Arial, sans-serif', size: 29 },
                    padding: { top: 10, bottom: 12 }
                },
                afterFit(scale) { scale.height = 58; }
            },
            y: {
                type: 'linear',
                min: 0,
                max: 8.40,
                ticks: { display: false },
                grid: { display: false },
                border: { display: false },
                title: {
                    display: true,
                    text: yLabel,
                    color: '#000000',
                    font: { family: '"Liberation Sans", Arial, sans-serif', size: 29 },
                    padding: { top: 9, bottom: 10 }
                },
                afterFit(scale) { scale.width = 57; }
            }
        }
    },
    plugins: [panelBox]
});
</script>
</body>
</html>
